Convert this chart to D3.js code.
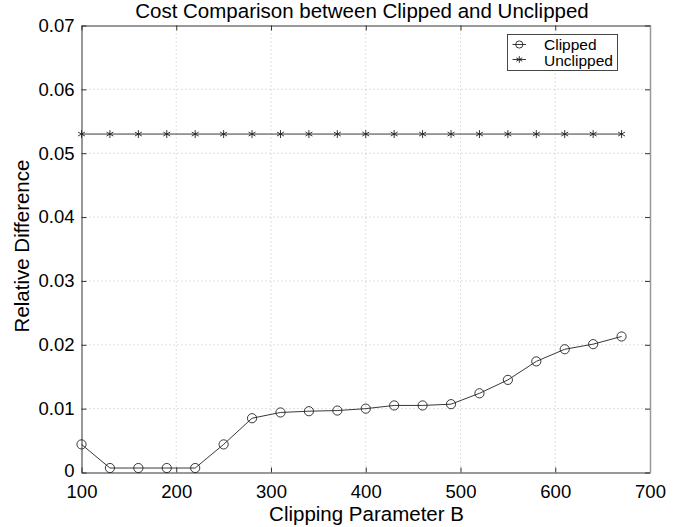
<!DOCTYPE html>
<html><head><meta charset="utf-8">
<script src="https://cdn.jsdelivr.net/npm/d3@7"></script>
<style>body{margin:0;background:#fff}svg{display:block}text{font-family:"Liberation Sans",Arial,Helvetica,sans-serif}</style>
</head><body>
<svg id="c" width="690" height="527"></svg>
<script>
const xValues = [100,130,160,190,220,250,280,310,340,370,400,430,460,490,520,550,580,610,640,670];
const clipped = [0.0044,0.0007,0.0007,0.0007,0.0007,0.0044,0.0085,0.0094,0.0096,0.0097,0.0100,0.0105,0.0105,0.0107,0.0124,0.0145,0.0174,0.0193,0.0201,0.0213];
const unclipped = [0.053,0.053,0.053,0.053,0.053,0.053,0.053,0.053,0.053,0.053,0.053,0.053,0.053,0.053,0.053,0.053,0.053,0.053,0.053,0.053];
const xTicks = [100,200,300,400,500,600,700];
const yTicks = [0,0.01,0.02,0.03,0.04,0.05,0.06,0.07];
const yTickLabels = ["0","0.01","0.02","0.03","0.04","0.05","0.06","0.07"];
const seriesNames = ["Clipped","Unclipped"];

const svg = d3.select("#c");
const L=81.5, R=650, T=25.5, B=472.5;
const x = d3.scaleLinear().domain([100,700]).range([L,R]);
const y = d3.scaleLinear().domain([0,0.07]).range([B,T]);

// grid
const g = svg.append("g");
xTicks.slice(1,-1).forEach(t=>g.append("line").attr("x1",x(t)).attr("x2",x(t)).attr("y1",T).attr("y2",B)
  .attr("stroke","#b0b0b0").attr("stroke-width",0.8).attr("stroke-dasharray","1,3"));
yTicks.slice(1,-1).forEach(t=>g.append("line").attr("x1",L).attr("x2",R).attr("y1",y(t)).attr("y2",y(t))
  .attr("stroke","#b0b0b0").attr("stroke-width",0.8).attr("stroke-dasharray","1,3"));

// axes
const ax = d3.axisBottom(x).tickValues(xTicks).tickSize(-5).tickPadding(12).tickSizeOuter(0);
const axG = svg.append("g").attr("transform",`translate(0,${B})`).call(ax);
const ay = d3.axisLeft(y).tickValues(yTicks).tickFormat((d,i)=>yTickLabels[i]).tickSize(-5).tickPadding(7).tickSizeOuter(0);
const ayG = svg.append("g").attr("transform",`translate(${L},0)`).call(ay);
const axT = svg.append("g").attr("transform",`translate(0,${T})`).call(d3.axisTop(x).tickValues(xTicks).tickSize(-5).tickFormat("").tickSizeOuter(0));
const ayR = svg.append("g").attr("transform",`translate(${R},0)`).call(d3.axisRight(y).tickValues(yTicks).tickSize(-5).tickFormat("").tickSizeOuter(0));
[axG,ayG,axT,ayR].forEach(a=>{a.select(".domain").attr("stroke","#333").attr("stroke-width",1);
  a.selectAll(".tick line").attr("stroke","#333");
  a.selectAll("text").attr("font-size",18.5).attr("fill","#000").style("font-family",'"Liberation Sans",Arial,sans-serif');});
ayR.select(".domain").attr("stroke","#999").attr("stroke-width",1.5);
axG.selectAll("text").attr("dy","0.71em");
ayG.selectAll(".tick text").filter(d=>d===0).attr("dy","0.22em");

// lines
const line = d3.line().x((d,i)=>x(xValues[i])).y(d=>y(d));
svg.append("path").datum(clipped).attr("d",line).attr("fill","none").attr("stroke","#222").attr("stroke-width",0.9);
svg.append("path").datum(unclipped).attr("d",line).attr("fill","none").attr("stroke","#222").attr("stroke-width",0.9);
svg.selectAll(".cm").data(clipped).enter().append("circle").attr("cx",(d,i)=>x(xValues[i])).attr("cy",d=>y(d)).attr("r",4.6)
  .attr("fill","none").attr("stroke","#222").attr("stroke-width",0.9);
function star(gsel,cx,cy,s){
  for(let a of [90,30,-30]){ const r=a*Math.PI/180; gsel.append("line").attr("x1",cx-s*Math.cos(r)).attr("y1",cy-s*Math.sin(r)).attr("x2",cx+s*Math.cos(r)).attr("y2",cy+s*Math.sin(r)).attr("stroke","#222").attr("stroke-width",0.9);}
}
const sg = svg.append("g");
unclipped.forEach((d,i)=>star(sg,x(xValues[i]),y(d),4));

// legend
const lg = svg.append("g");
lg.append("rect").attr("x",507.5).attr("y",34.5).attr("width",110).attr("height",36).attr("fill","#fff").attr("stroke","#333").attr("stroke-width",0.9);
lg.append("line").attr("x1",512.5).attr("x2",526).attr("y1",44.5).attr("y2",44.5).attr("stroke","#222").attr("stroke-width",0.9);
lg.append("circle").attr("cx",519.3).attr("cy",44.5).attr("r",3.6).attr("fill","none").attr("stroke","#222").attr("stroke-width",0.9);
lg.append("line").attr("x1",512.5).attr("x2",526).attr("y1",59.5).attr("y2",59.5).attr("stroke","#222").attr("stroke-width",0.9);
star(lg,519.3,59.5,3.4);
lg.append("text").attr("x",544).attr("y",50).attr("font-size",15.5).text(seriesNames[0]);
lg.append("text").attr("x",544).attr("y",66).attr("font-size",15.5).text(seriesNames[1]);

// titles
svg.append("text").attr("x",362).attr("y",17.5).attr("text-anchor","middle").attr("font-size",20.5).text("Cost Comparison between Clipped and Unclipped");
svg.append("text").attr("x",366.5).attr("y",521).attr("text-anchor","middle").attr("font-size",20.5).text("Clipping Parameter B");
svg.append("text").attr("transform",`translate(28.5,246) rotate(-90)`).attr("text-anchor","middle").attr("font-size",20.5).text("Relative Difference");
</script>
</body></html>
